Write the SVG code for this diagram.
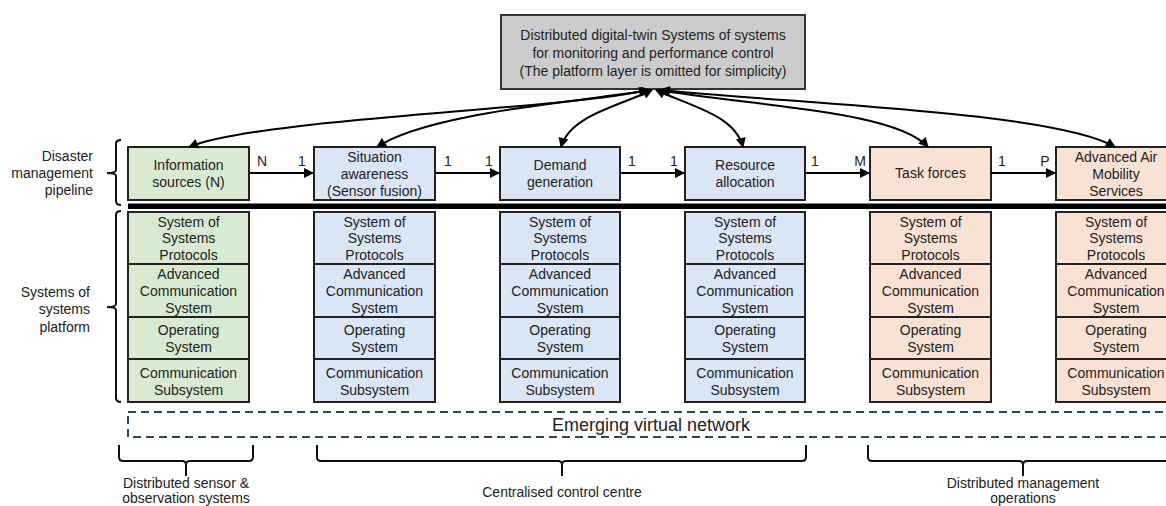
<svg xmlns="http://www.w3.org/2000/svg" width="1166" height="506" viewBox="0 0 1166 506">
  <style>
    text { font-family: "Liberation Sans", Arial, sans-serif; font-size: 14px; fill: #222; text-anchor: middle; }
    .lbl { text-anchor: end; }
    .box { stroke: #222; stroke-width: 2; }
    .green { fill: #d9ead3; }
    .blue { fill: #dae5f6; }
    .peach { fill: #f9e1d3; }
    .grey { fill: #cccccc; stroke: #333; stroke-width: 2; }
    .flow { fill: none; stroke: #000; stroke-width: 2; }
    .brace { fill: none; stroke: #111; stroke-width: 2; }
    .net { fill: none; stroke: #2d4656; stroke-width: 2; stroke-dasharray: 8 5; }
    .big { font-size: 18px; }
  </style>
  <defs>
    <marker id="head" viewBox="0 0 10 10" refX="9" refY="5" markerWidth="5.5" markerHeight="5" orient="auto-start-reverse" markerUnits="strokeWidth">
      <path d="M0 0 L10 5 L0 10 z" fill="#000"/>
    </marker>
  </defs>

  <rect width="1166" height="506" fill="#fff"/>

  <!-- row labels and braces -->
  <g id="label-pipeline">
    <text class="lbl" x="93" y="161">Disaster</text>
    <text class="lbl" x="93" y="178">management</text>
    <text class="lbl" x="93" y="195">pipeline</text>
    <path class="brace" d="M121 140 Q116 140 116 144 L116 170 Q116 173 107 173 Q116 173 116 176 L116 201 Q116 205 121 205"/>
  </g>
  <g id="label-platform">
    <text class="lbl" x="90" y="297">Systems of</text>
    <text class="lbl" x="90" y="314">systems</text>
    <text class="lbl" x="90" y="332">platform</text>
    <path class="brace" d="M121 211 Q116 211 116 215 L116 304 Q116 307 107 307 Q116 307 116 310 L116 398 Q116 402 121 402"/>
  </g>

  <!-- digital twin -->
  <g id="twin">
    <rect class="grey" x="501" y="15" width="304" height="74"/>
    <text x="653" y="40">Distributed digital-twin Systems of systems</text>
    <text x="653" y="58">for monitoring and performance control</text>
    <text x="653" y="76">(The platform layer is omitted for simplicity)</text>
  </g>

  <!-- pipeline stages -->
  <g id="info-sources">
    <rect class="box green" x="128" y="147" width="121" height="53"/>
    <text x="188.5" y="170">Information</text>
    <text x="188.5" y="187">sources (N)</text>
  </g>
  <g id="situation-awareness">
    <rect class="box blue" x="314" y="147" width="121" height="53"/>
    <text x="374.5" y="162">Situation</text>
    <text x="374.5" y="179">awareness</text>
    <text x="374.5" y="196">(Sensor fusion)</text>
  </g>
  <g id="demand-generation">
    <rect class="box blue" x="500" y="147" width="120" height="53"/>
    <text x="560" y="170">Demand</text>
    <text x="560" y="187">generation</text>
  </g>
  <g id="resource-allocation">
    <rect class="box blue" x="685" y="147" width="120" height="53"/>
    <text x="745" y="170">Resource</text>
    <text x="745" y="187">allocation</text>
  </g>
  <g id="task-forces">
    <rect class="box peach" x="870" y="147" width="121" height="53"/>
    <text x="930.5" y="178">Task forces</text>
  </g>
  <g id="aam-services">
    <rect class="box peach" x="1056" y="147" width="121" height="53"/>
    <text x="1116" y="162">Advanced Air</text>
    <text x="1116" y="179">Mobility</text>
    <text x="1116" y="196">Services</text>
  </g>

  <!-- separator between pipeline and platform -->
  <rect id="separator" x="128" y="203.5" width="1040" height="5.5" fill="#000"/>

  <!-- platform stacks -->
  <g id="stack-1">
    <rect class="box green" x="128" y="212" width="121" height="52"/>
    <text x="188.5" y="227">System of</text><text x="188.5" y="243">Systems</text><text x="188.5" y="260">Protocols</text>
    <rect class="box green" x="128" y="264" width="121" height="53"/>
    <text x="188.5" y="279">Advanced</text><text x="188.5" y="296">Communication</text><text x="188.5" y="313">System</text>
    <rect class="box green" x="128" y="317" width="121" height="42"/>
    <text x="188.5" y="335">Operating</text><text x="188.5" y="352">System</text>
    <rect class="box green" x="128" y="359" width="121" height="43"/>
    <text x="188.5" y="378">Communication</text><text x="188.5" y="395">Subsystem</text>
  </g>
  <g id="stack-2">
    <rect class="box blue" x="314" y="212" width="121" height="52"/>
    <text x="374.5" y="227">System of</text><text x="374.5" y="243">Systems</text><text x="374.5" y="260">Protocols</text>
    <rect class="box blue" x="314" y="264" width="121" height="53"/>
    <text x="374.5" y="279">Advanced</text><text x="374.5" y="296">Communication</text><text x="374.5" y="313">System</text>
    <rect class="box blue" x="314" y="317" width="121" height="42"/>
    <text x="374.5" y="335">Operating</text><text x="374.5" y="352">System</text>
    <rect class="box blue" x="314" y="359" width="121" height="43"/>
    <text x="374.5" y="378">Communication</text><text x="374.5" y="395">Subsystem</text>
  </g>
  <g id="stack-3">
    <rect class="box blue" x="500" y="212" width="120" height="52"/>
    <text x="560" y="227">System of</text><text x="560" y="243">Systems</text><text x="560" y="260">Protocols</text>
    <rect class="box blue" x="500" y="264" width="120" height="53"/>
    <text x="560" y="279">Advanced</text><text x="560" y="296">Communication</text><text x="560" y="313">System</text>
    <rect class="box blue" x="500" y="317" width="120" height="42"/>
    <text x="560" y="335">Operating</text><text x="560" y="352">System</text>
    <rect class="box blue" x="500" y="359" width="120" height="43"/>
    <text x="560" y="378">Communication</text><text x="560" y="395">Subsystem</text>
  </g>
  <g id="stack-4">
    <rect class="box blue" x="685" y="212" width="120" height="52"/>
    <text x="745" y="227">System of</text><text x="745" y="243">Systems</text><text x="745" y="260">Protocols</text>
    <rect class="box blue" x="685" y="264" width="120" height="53"/>
    <text x="745" y="279">Advanced</text><text x="745" y="296">Communication</text><text x="745" y="313">System</text>
    <rect class="box blue" x="685" y="317" width="120" height="42"/>
    <text x="745" y="335">Operating</text><text x="745" y="352">System</text>
    <rect class="box blue" x="685" y="359" width="120" height="43"/>
    <text x="745" y="378">Communication</text><text x="745" y="395">Subsystem</text>
  </g>
  <g id="stack-5">
    <rect class="box peach" x="870" y="212" width="121" height="52"/>
    <text x="930.5" y="227">System of</text><text x="930.5" y="243">Systems</text><text x="930.5" y="260">Protocols</text>
    <rect class="box peach" x="870" y="264" width="121" height="53"/>
    <text x="930.5" y="279">Advanced</text><text x="930.5" y="296">Communication</text><text x="930.5" y="313">System</text>
    <rect class="box peach" x="870" y="317" width="121" height="42"/>
    <text x="930.5" y="335">Operating</text><text x="930.5" y="352">System</text>
    <rect class="box peach" x="870" y="359" width="121" height="43"/>
    <text x="930.5" y="378">Communication</text><text x="930.5" y="395">Subsystem</text>
  </g>
  <g id="stack-6">
    <rect class="box peach" x="1056" y="212" width="121" height="52"/>
    <text x="1116" y="227">System of</text><text x="1116" y="243">Systems</text><text x="1116" y="260">Protocols</text>
    <rect class="box peach" x="1056" y="264" width="121" height="53"/>
    <text x="1116" y="279">Advanced</text><text x="1116" y="296">Communication</text><text x="1116" y="313">System</text>
    <rect class="box peach" x="1056" y="317" width="121" height="42"/>
    <text x="1116" y="335">Operating</text><text x="1116" y="352">System</text>
    <rect class="box peach" x="1056" y="359" width="121" height="43"/>
    <text x="1116" y="378">Communication</text><text x="1116" y="395">Subsystem</text>
  </g>

  <!-- virtual network band -->
  <g id="virtual-network">
    <rect class="net" x="128" y="412" width="1060" height="25"/>
    <text class="big" x="651" y="431">Emerging virtual network</text>
  </g>

  <!-- groupings along the bottom -->
  <g id="group-sensors">
    <path class="brace" d="M119 445 L119 457 Q119 461 123 461 L182 461 Q186 461 186 465 L186 476 M186 465 Q186 461 190 461 L249 461 Q253 461 253 457 L253 445"/>
    <text x="186" y="488">Distributed sensor &amp;</text>
    <text x="186" y="503">observation systems</text>
  </g>
  <g id="group-control">
    <path class="brace" d="M317 445 L317 457 Q317 461 321 461 L558 461 Q562 461 562 465 L562 476 M562 465 Q562 461 566 461 L802 461 Q806 461 806 457 L806 445"/>
    <text x="562" y="497">Centralised control centre</text>
  </g>
  <g id="group-operations">
    <path class="brace" d="M868 445 L868 457 Q868 461 872 461 L1019 461 Q1023 461 1023 465 L1023 476 M1023 465 Q1023 461 1027 461 L1180 461"/>
    <text x="1023" y="488">Distributed management</text>
    <text x="1023" y="503">operations</text>
  </g>

  <!-- connectors -->
  <g id="connectors">
    <path class="flow" d="M249 173 L313 173" marker-end="url(#head)"/>
    <path class="flow" d="M435 173 L499 173" marker-end="url(#head)"/>
    <path class="flow" d="M620 173 L684 173" marker-end="url(#head)"/>
    <path class="flow" d="M805 173 L869 173" marker-end="url(#head)"/>
    <path class="flow" d="M991 173 L1055 173" marker-end="url(#head)"/>

    <path class="flow" d="M648 90 C560 110, 260 118, 189 147" marker-start="url(#head)" marker-end="url(#head)"/>
    <path class="flow" d="M650 90 C580 102, 430 112, 377 147" marker-start="url(#head)" marker-end="url(#head)"/>
    <path class="flow" d="M652 90 C620 106, 570 115, 561 147" marker-start="url(#head)" marker-end="url(#head)"/>
    <path class="flow" d="M656 90 C690 106, 735 115, 743 147" marker-start="url(#head)" marker-end="url(#head)"/>
    <path class="flow" d="M659 90 C750 106, 895 110, 928 147" marker-start="url(#head)" marker-end="url(#head)"/>
    <path class="flow" d="M661 90 C800 104, 1055 112, 1115 147" marker-start="url(#head)" marker-end="url(#head)"/>
  </g>

  <!-- multiplicities -->
  <g id="multiplicities">
    <text x="262" y="166">N</text>
    <text x="302" y="166">1</text>
    <text x="448" y="166">1</text>
    <text x="489" y="166">1</text>
    <text x="632" y="166">1</text>
    <text x="674" y="166">1</text>
    <text x="815" y="166">1</text>
    <text x="860" y="166">M</text>
    <text x="1002" y="166">1</text>
    <text x="1045" y="166">P</text>
  </g>
</svg>
